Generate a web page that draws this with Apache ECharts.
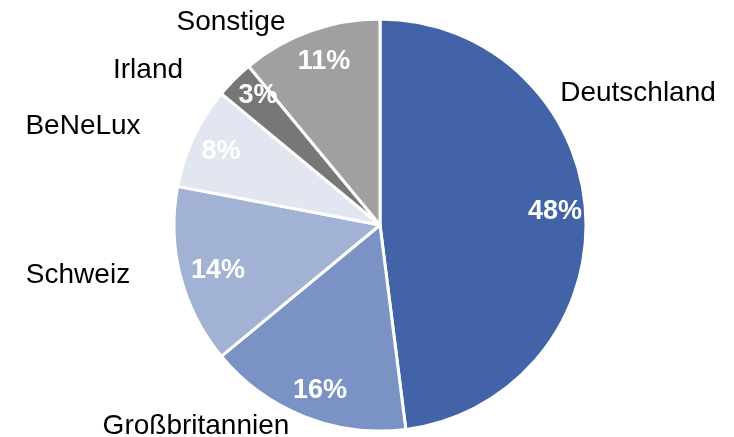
<!DOCTYPE html>
<html>
<head>
<meta charset="utf-8">
<script src="https://cdn.jsdelivr.net/npm/echarts@6/dist/echarts.min.js"></script>
<style>html,body{margin:0;padding:0;background:#fff;}#c{width:734px;height:437px;}</style>
</head>
<body>
<div id="c"></div>
<script>
const categories = ['Deutschland', 'Großbritannien', 'Schweiz', 'BeNeLux', 'Irland', 'Sonstige'];
const shares = [48, 16, 14, 8, 3, 11];
const colors = ['#4263A7', '#7B93C4', '#A2B2D4', '#E1E6F0', '#777777', '#A0A0A0'];
// label anchor points (layout only)
const nameLabelPos = [[638, 93], [196, 426], [78, 275], [83, 126], [148, 70], [231, 22]];
const pctLabelPos = [[555, 212], [320, 391], [218, 271], [221, 152], [258, 96], [324, 62]];

const chart = echarts.init(document.getElementById('c'), null, {renderer: 'canvas'});
const center = [380, 225];
const radius = 206;
const data = categories.map((n, i) => ({name: n, value: shares[i], itemStyle: {color: colors[i]}}));
chart.setOption({
  animation: false,
  series: [
    {
      type: 'pie', center: center, radius: radius, startAngle: 90, clockwise: true,
      data: data,
      itemStyle: {borderColor: '#fff', borderWidth: 3},
      label: {
        show: true, position: 'inside', color: '#fff', fontWeight: 'bold',
        fontSize: 27, fontFamily: 'Liberation Sans, Arial, sans-serif',
        formatter: p => Math.round(p.value) + '%'
      },
      labelLine: {show: false},
      labelLayout: p => ({x: pctLabelPos[p.dataIndex][0], y: pctLabelPos[p.dataIndex][1], align: 'center', verticalAlign: 'middle'}),
      emphasis: {disabled: true}
    },
    {
      type: 'pie', center: center, radius: radius, startAngle: 90, clockwise: true, silent: true,
      data: categories.map((n, i) => ({name: n, value: shares[i]})),
      itemStyle: {color: 'rgba(0,0,0,0)', borderWidth: 0},
      label: {
        show: true, position: 'outside', color: '#000', overflow: 'none', width: 300,
        fontSize: 28, fontFamily: 'Liberation Sans, Arial, sans-serif',
        formatter: p => p.name
      },
      labelLine: {show: false},
      labelLayout: p => ({x: nameLabelPos[p.dataIndex][0], y: nameLabelPos[p.dataIndex][1], align: 'center', verticalAlign: 'middle'}),
      emphasis: {disabled: true}
    }
  ]
});
</script>
</body>
</html>
